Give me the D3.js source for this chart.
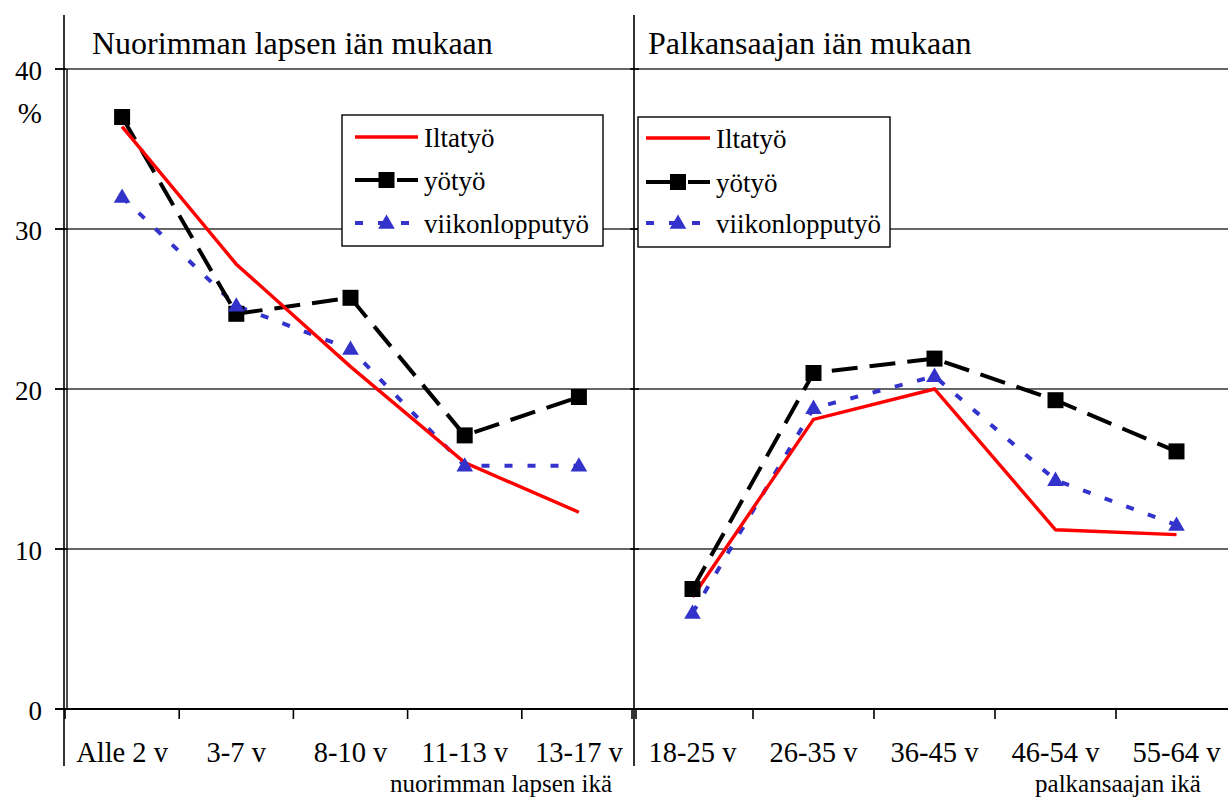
<!DOCTYPE html>
<html>
<head>
<meta charset="utf-8">
<script src="https://cdn.jsdelivr.net/npm/d3@7"></script>
<style>
  html, body { margin: 0; padding: 0; background: #fff; }
  svg { display: block; }
</style>
</head>
<body>
<svg id="chart" width="1228" height="801"></svg>
<script>
// Share of employees doing evening, night and weekend work (%)
const childAges = ["Alle 2 v", "3-7 v", "8-10 v", "11-13 v", "13-17 v"];
const workerAges = ["18-25 v", "26-35 v", "36-45 v", "46-54 v", "55-64 v"];

const eveningByChild = [36.4, 27.8, 21.4, 15.4, 12.3];
const nightByChild   = [37.0, 24.7, 25.7, 17.1, 19.5];
const weekendByChild = [32.0, 25.2, 22.5, 15.2, 15.2];

const eveningByWorker = [7.0, 18.1, 20.0, 11.2, 10.9];
const nightByWorker   = [7.5, 21.0, 21.9, 19.3, 16.1];
const weekendByWorker = [6.0, 18.8, 20.8, 14.3, 11.5];

const yTicks = [0, 10, 20, 30, 40];
const seriesNames = ["Iltatyö", "yötyö", "viikonlopputyö"];
const panelTitles = ["Nuorimman lapsen iän mukaan", "Palkansaajan iän mukaan"];
const axisTitles = ["nuorimman lapsen ikä", "palkansaajan ikä"];

const FONT = "'Liberation Serif', 'Times New Roman', serif";
const svg = d3.select("#chart");

function label(sel, size) {
  return sel.attr("font-family", FONT).attr("font-size", size).attr("fill", "#000");
}

const y = d3.scaleLinear().domain([0, 40]).range([709, 69]);

const styles = [
  { color: "#ff0000", width: 3.4, dash: null, marker: null },
  { color: "#000000", width: 4, dash: "26,12", marker: "square" },
  { color: "#3333cc", width: 4, dash: "8,15", marker: "triangle" }
];

const panels = [
  { cats: childAges, range: [65, 636], series: [eveningByChild, nightByChild, weekendByChild],
    title: panelTitles[0], titleX: 92, axisTitle: axisTitles[0], axisTitleX: 501,
    legend: { x0: 342, x1: 603, top: 115, bottom: 246, lineX0: 355, lineX1: 418, textX: 424, rows: [137, 180, 223] } },
  { cats: workerAges, range: [632, 1237], series: [eveningByWorker, nightByWorker, weekendByWorker],
    title: panelTitles[1], titleX: 648, axisTitle: axisTitles[1], axisTitleX: 1118,
    legend: { x0: 638, x1: 890, top: 117, bottom: 247, lineX0: 646, lineX1: 710, textX: 716, rows: [138, 182, 223] } }
];

// horizontal gridlines across both panels
svg.append("g").selectAll("line")
  .data(yTicks.filter(d => d > 0))
  .join("line")
  .attr("x1", 55).attr("x2", 1228)
  .attr("y1", d => y(d)).attr("y2", d => y(d))
  .attr("stroke", "#333").attr("stroke-width", 1.6);

// x axis baseline
svg.append("line")
  .attr("x1", 55).attr("x2", 1228)
  .attr("y1", y(0)).attr("y2", y(0))
  .attr("stroke", "#000").attr("stroke-width", 1.8);

// left value axis: ticks and labels
svg.append("g").selectAll("line")
  .data(yTicks).join("line")
  .attr("x1", 55).attr("x2", 66)
  .attr("y1", d => y(d)).attr("y2", d => y(d))
  .attr("stroke", "#000").attr("stroke-width", 1.6);

label(svg.append("g").selectAll("text")
  .data(yTicks).join("text")
  .attr("x", 42).attr("y", d => y(d) + 10.5)
  .attr("text-anchor", "end"), 27)
  .text(d => d);

label(svg.append("text")
  .attr("x", 42).attr("y", 123)
  .attr("text-anchor", "end"), 29)
  .text("%");

// vertical frame lines
svg.append("line").attr("x1", 64).attr("x2", 64).attr("y1", 15).attr("y2", 766)
  .attr("stroke", "#000").attr("stroke-width", 1.6);
svg.append("line").attr("x1", 67).attr("x2", 67).attr("y1", y(40)).attr("y2", y(0))
  .attr("stroke", "#000").attr("stroke-width", 1.4);
svg.append("line").attr("x1", 634).attr("x2", 634).attr("y1", 15).attr("y2", 766)
  .attr("stroke", "#000").attr("stroke-width", 1.6);

// small ticks of the right panel's value axis
svg.append("g").selectAll("line")
  .data(yTicks).join("line")
  .attr("x1", 630).attr("x2", 639)
  .attr("y1", d => y(d)).attr("y2", d => y(d))
  .attr("stroke", "#000").attr("stroke-width", 1.6);

const squarePath = d3.symbol().type(d3.symbolSquare).size(256);
const trianglePath = d3.symbol().type(d3.symbolTriangle).size(120);

function drawMarker(g, kind, cx, cy) {
  if (kind === "square") {
    g.append("path").attr("d", squarePath()).attr("transform", `translate(${cx},${cy})`)
      .attr("fill", "#000");
  } else if (kind === "triangle") {
    g.append("path").attr("d", trianglePath()).attr("transform", `translate(${cx},${cy + 1})`)
      .attr("fill", "#3333cc");
  }
}

panels.forEach(p => {
  const x = d3.scaleBand().domain(p.cats).range(p.range);
  const cx = d => x(d) + x.bandwidth() / 2;
  const g = svg.append("g");

  // category ticks at band boundaries
  const bounds = p.cats.map(c => x(c)).concat([x(p.cats[p.cats.length - 1]) + x.bandwidth()]);
  g.append("g").selectAll("line")
    .data(bounds).join("line")
    .attr("x1", d => d).attr("x2", d => d)
    .attr("y1", y(0)).attr("y2", y(0) + 10)
    .attr("stroke", "#000").attr("stroke-width", 1.6);

  // category labels
  label(g.append("g").selectAll("text")
    .data(p.cats).join("text")
    .attr("x", d => cx(d)).attr("y", 762)
    .attr("text-anchor", "middle"), 28.5)
    .text(d => d);

  label(g.append("text")
    .attr("x", p.axisTitleX).attr("y", 792)
    .attr("text-anchor", "middle"), 25)
    .text(p.axisTitle);

  label(g.append("text")
    .attr("x", p.titleX).attr("y", 54), 32)
    .text(p.title);

  // series lines (weekend, night, evening)
  const line = d3.line().x((d, i) => cx(p.cats[i])).y(d => y(d));
  [2, 1, 0].forEach(si => {
    const s = styles[si];
    g.append("path")
      .attr("d", line(p.series[si]))
      .attr("fill", "none")
      .attr("stroke", s.color)
      .attr("stroke-width", s.width)
      .attr("stroke-dasharray", s.dash)
      .attr("stroke-linejoin", "miter");
  });
  // markers
  [1, 2].forEach(si => {
    p.series[si].forEach((v, i) => drawMarker(g, styles[si].marker, cx(p.cats[i]), y(v)));
  });

  // legend
  const L = p.legend;
  const lg = g.append("g");
  lg.append("rect")
    .attr("x", L.x0).attr("y", L.top)
    .attr("width", L.x1 - L.x0).attr("height", L.bottom - L.top)
    .attr("fill", "#fff").attr("stroke", "#000").attr("stroke-width", 1.4);
  seriesNames.forEach((name, si) => {
    const s = styles[si];
    const ry = L.rows[si];
    lg.append("line")
      .attr("x1", L.lineX0).attr("x2", L.lineX1)
      .attr("y1", ry).attr("y2", ry)
      .attr("stroke", s.color).attr("stroke-width", s.width)
      .attr("stroke-dasharray", si === 1 ? "30,12" : (si === 2 ? "8,15" : null));
    drawMarker(lg, s.marker, (L.lineX0 + L.lineX1) / 2, ry);
    label(lg.append("text")
      .attr("x", L.textX).attr("y", ry + 10), 27)
      .text(name);
  });
});
</script>
</body>
</html>
